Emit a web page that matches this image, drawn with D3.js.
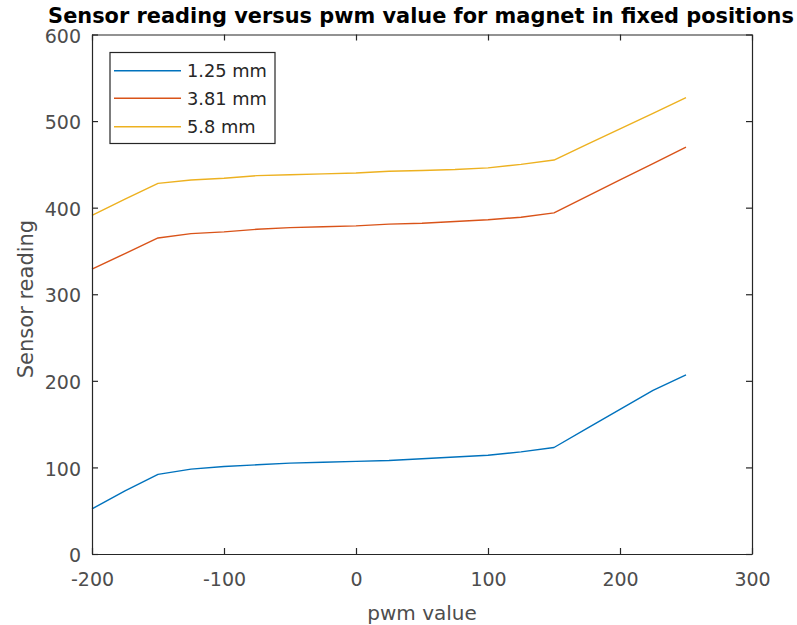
<!DOCTYPE html>
<html>
<head>
<meta charset="utf-8">
<script src="https://cdn.jsdelivr.net/npm/d3@7"></script>
<style>
  html, body { margin: 0; padding: 0; background: #fff; }
  svg { display: block; font-family: "DejaVu Sans", sans-serif; }
</style>
</head>
<body>
<svg id="chart" width="797" height="625"></svg>
<script>
// PWM settings at which the sensor was sampled
const pwm = [-200, -175, -150, -125, -100, -75, -50, -25, 0, 25, 50, 75, 100, 125, 150, 175, 200, 225, 250];

// Sensor readings for each magnet distance
const reading125 = [52, 73, 92, 98, 101, 103, 105, 106, 107, 108, 110, 112, 114, 118, 123, 145, 167, 189, 207];
const reading381 = [329, 347, 365, 370, 372, 375, 377, 378, 379, 381, 382, 384, 386, 389, 394, 413, 432, 451, 470];
const reading58  = [391, 410, 428, 432, 434, 437, 438, 439, 440, 442, 443, 444, 446, 450, 455, 473, 491, 509, 527];

const seriesNames = ["1.25 mm", "3.81 mm", "5.8 mm"];
const seriesColors = ["#0072BD", "#D95319", "#EDB120"];

const xTicks = [-200, -100, 0, 100, 200, 300];
const yTicks = [0, 100, 200, 300, 400, 500, 600];

const titleText = "Sensor reading versus pwm value for magnet in fixed positions";
const xLabelText = "pwm value";
const yLabelText = "Sensor reading";

const svg = d3.select("#chart");
const margin = { left: 92, right: 45, top: 34.5, bottom: 71 };
const W = 797, H = 625;

const x = d3.scaleLinear().domain([-200, 300]).range([margin.left, W - margin.right]);
const y = d3.scaleLinear().domain([0, 600]).range([H - margin.bottom, margin.top]);

const axisColor = "#262626";
const labelColor = "#4d4d4d";
const tickLen = 6;
const plainNum = d => String(d);   // hyphen-minus, as in the original figure

// Data lines (drawn first so the frame sits on top)
const series = [reading125, reading381, reading58];
const line = d3.line().x(d => x(d[0])).y(d => y(d[1]));
series.forEach((vals, i) => {
  svg.append("path")
    .datum(pwm.map((p, k) => [p, vals[k]]))
    .attr("fill", "none")
    .attr("stroke", seriesColors[i])
    .attr("stroke-width", 1.4)
    .attr("stroke-linejoin", "round")
    .attr("d", line);
});

// Axes: ticks point inward, boxed frame
const fontTick = 19;
const axBottom = svg.append("g").attr("transform", `translate(0,${y(0)})`)
  .call(d3.axisBottom(x).tickValues(xTicks).tickFormat(plainNum)
    .tickSizeInner(-tickLen).tickSizeOuter(0).tickPadding(19));
const axTop = svg.append("g").attr("transform", `translate(0,${y(600)})`)
  .call(d3.axisTop(x).tickValues(xTicks).tickSizeInner(-tickLen).tickSizeOuter(0).tickFormat(""));
const axLeft = svg.append("g").attr("transform", `translate(${x(-200)},0)`)
  .call(d3.axisLeft(y).tickValues(yTicks).tickFormat(plainNum)
    .tickSizeInner(-tickLen).tickSizeOuter(0).tickPadding(11));
const axRight = svg.append("g").attr("transform", `translate(${x(300)},0)`)
  .call(d3.axisRight(y).tickValues(yTicks).tickSizeInner(-tickLen).tickSizeOuter(0).tickFormat(""));

[axBottom, axTop, axLeft, axRight].forEach(g => {
  g.select(".domain").attr("stroke", axisColor).attr("stroke-width", 1.2);
  g.selectAll(".tick line").attr("stroke", axisColor).attr("stroke-width", 1.2);
  g.selectAll(".tick text").attr("fill", labelColor)
    .attr("font-family", "DejaVu Sans, sans-serif").attr("font-size", fontTick);
});
axLeft.selectAll(".tick text").attr("dy", "0.4em");

// Legend
const lg = svg.append("g");
const lgX = 110, lgY = 52.5, lgW = 165, lgH = 91;
lg.append("rect").attr("x", lgX).attr("y", lgY).attr("width", lgW).attr("height", lgH)
  .attr("fill", "#fff").attr("stroke", axisColor).attr("stroke-width", 1.2);
const rowY = [70.7, 98.3, 126.7];
seriesNames.forEach((name, i) => {
  lg.append("line").attr("x1", 114).attr("x2", 181).attr("y1", rowY[i]).attr("y2", rowY[i])
    .attr("stroke", seriesColors[i]).attr("stroke-width", 1.4);
  lg.append("text").attr("x", 187).attr("y", rowY[i]).attr("dy", "0.36em")
    .attr("font-size", 17.8).attr("fill", axisColor).text(name);
});

// Titles and axis labels
const title = svg.append("text")
  .attr("x", (x(-200) + x(300)) / 2 - 1).attr("y", 22.5)
  .attr("text-anchor", "middle").attr("font-weight", "bold")
  .attr("font-size", 19).attr("fill", "#000").text(titleText);
const tw = title.node().getComputedTextLength();
title.attr("font-size", 19 * 746 / tw);

svg.append("text")
  .attr("x", (x(-200) + x(300)) / 2).attr("y", 620)
  .attr("text-anchor", "middle").attr("font-size", 20).attr("fill", labelColor)
  .text(xLabelText);

svg.append("text")
  .attr("transform", `translate(33,299) rotate(-90)`)
  .attr("text-anchor", "middle").attr("font-size", 21).attr("fill", labelColor)
  .text(yLabelText);
</script>
</body>
</html>
